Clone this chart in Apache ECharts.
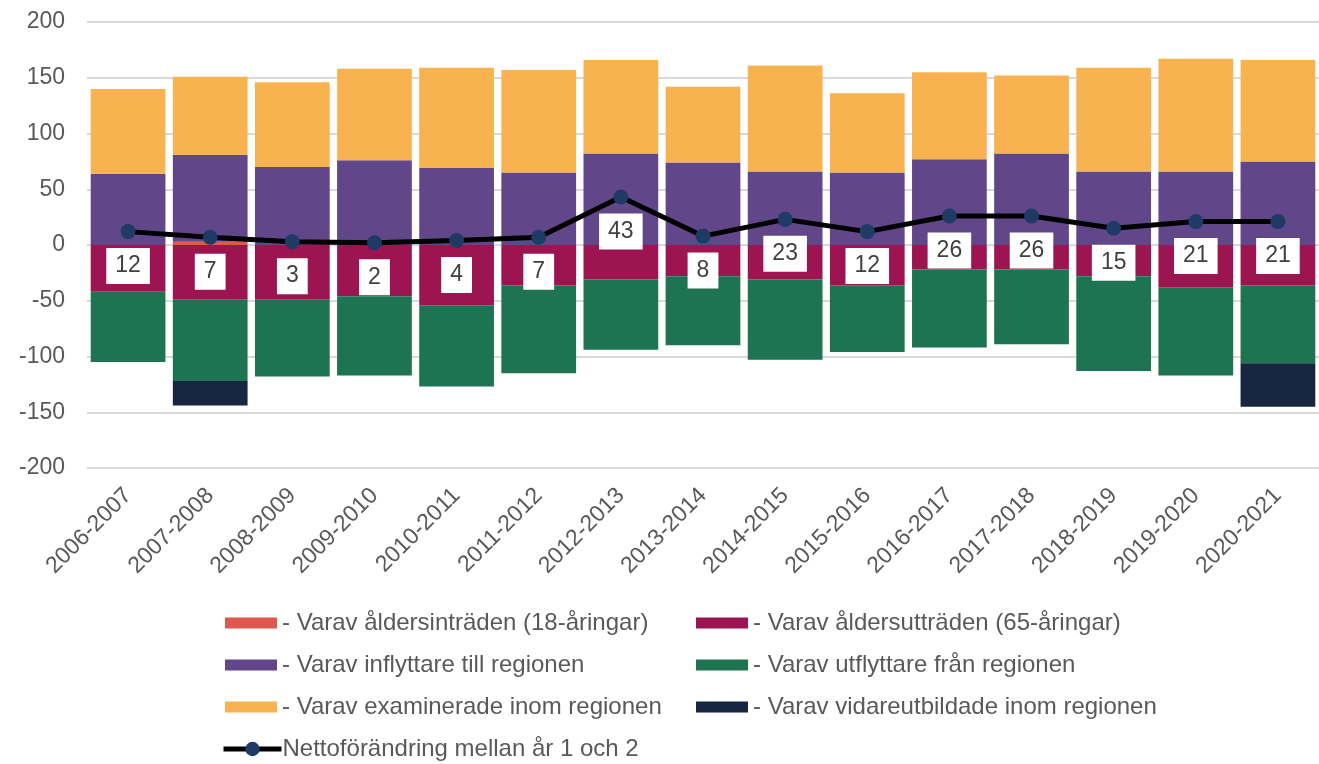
<!DOCTYPE html>
<html>
<head>
<meta charset="utf-8">
<script src="https://cdn.jsdelivr.net/npm/echarts@6/dist/echarts.min.js"></script>
<style>
  html, body { margin: 0; padding: 0; background: #fff; }
  #chart { width: 1319px; height: 764px; }
</style>
</head>
<body>
<div id="chart"></div>
<script>
const years = ['2006-2007', '2007-2008', '2008-2009', '2009-2010', '2010-2011', '2011-2012', '2012-2013',
  '2013-2014', '2014-2015', '2015-2016', '2016-2017', '2017-2018', '2018-2019', '2019-2020', '2020-2021'];

const aldersintraden = [0, 3, 0, 0, 0, 0, 0, 0, 0, 0, 0, 0, 0, 0, 0];
const aldersutträden = [-42, -49, -49, -46, -54, -36, -31, -28, -31, -36, -22, -22, -28, -38, -36];
const inflyttare = [64, 78, 70, 76, 69, 65, 82, 74, 66, 65, 77, 82, 66, 66, 75];
const utflyttare = [-63, -73, -69, -71, -73, -79, -63, -62, -72, -60, -70, -67, -85, -79, -70];
const examinerade = [76, 70, 76, 82, 90, 92, 84, 68, 95, 71, 78, 70, 93, 101, 91];
const vidareutbildade = [0, -22, 0, 0, 0, 0, 0, 0, 0, 0, 0, 0, 0, 0, -39];
const netto = [12, 7, 3, 2, 4, 7, 43, 8, 23, 12, 26, 26, 15, 21, 21];

const yTicks = { min: -200, max: 200, interval: 50 };

const font = 'Liberation Sans, Arial, sans-serif';
const grey = '#595959';

const chart = echarts.init(document.getElementById('chart'));

function bar(name, data, color) {
  return {
    name: name,
    type: 'bar',
    stack: 'total',
    data: data,
    barCategoryGap: '9%',
    itemStyle: { color: color },
    emphasis: { disabled: true }
  };
}

const names = {
  red: '- Varav åldersinträden (18-åringar)',
  maroon: '- Varav åldersutträden (65-åringar)',
  purple: '- Varav inflyttare till regionen',
  green: '- Varav utflyttare från regionen',
  orange: '- Varav examinerade inom regionen',
  navy: '- Varav vidareutbildade inom regionen',
  net: 'Nettoförändring mellan år 1 och 2'
};

const legendText = { fontFamily: font, fontSize: 24, lineHeight: 24, color: grey };

const legendBase = {
  orient: 'vertical',
  selectedMode: false,
  padding: 0,
  icon: 'rect',
  itemWidth: 52,
  itemHeight: 11,
  itemGap: 18,
  textStyle: legendText
};

const option = {
  animation: false,
  textStyle: { fontFamily: font },
  grid: { left: 87, right: -24, top: 22, bottom: 296 },
  legend: [
    Object.assign({}, legendBase, { left: 225, top: 611, data: [names.red, names.purple, names.orange] }),
    Object.assign({}, legendBase, { left: 696, top: 611, data: [names.maroon, names.green, names.navy] }),
    Object.assign({}, legendBase, {
      left: 221, top: 737, icon: null, itemWidth: 58, itemHeight: 18,
      lineStyle: { color: '#000', width: 5 },
      itemStyle: { color: '#1f3a64' },
      textStyle: Object.assign({}, legendText, { padding: [0, 0, 0, -4] }),
      data: [names.net]
    })
  ],
  xAxis: {
    type: 'category',
    data: years,
    axisLine: { show: false, onZero: false },
    axisTick: { show: false },
    axisLabel: { rotate: 45, margin: 24, fontSize: 23, color: grey, fontFamily: font, interval: 0 }
  },
  yAxis: {
    type: 'value',
    min: yTicks.min,
    max: yTicks.max,
    interval: yTicks.interval,
    axisLabel: { fontSize: 23, color: grey, fontFamily: font, margin: 22 },
    splitLine: { lineStyle: { color: '#d9d9d9', width: 2 } }
  },
  series: [
    bar(names.red, aldersintraden, '#e2574c'),
    bar(names.maroon, aldersutträden, '#9c1551'),
    bar(names.purple, inflyttare, '#614689'),
    bar(names.green, utflyttare, '#1d7352'),
    bar(names.orange, examinerade, '#f8b350'),
    bar(names.navy, vidareutbildade, '#172541'),
    {
      name: names.net,
      type: 'line',
      data: netto,
      z: 5,
      symbol: 'circle',
      symbolSize: 15,
      lineStyle: { color: '#000', width: 5 },
      itemStyle: { color: '#1f3a64' },
      emphasis: { disabled: true },
      label: {
        show: true,
        position: 'bottom',
        distance: 9,
        fontSize: 23,
        color: '#404040',
        fontFamily: font,
        backgroundColor: '#fff',
        padding: [7, 9],
        lineHeight: 22
      }
    }
  ]
};

chart.setOption(option);
</script>
</body>
</html>
